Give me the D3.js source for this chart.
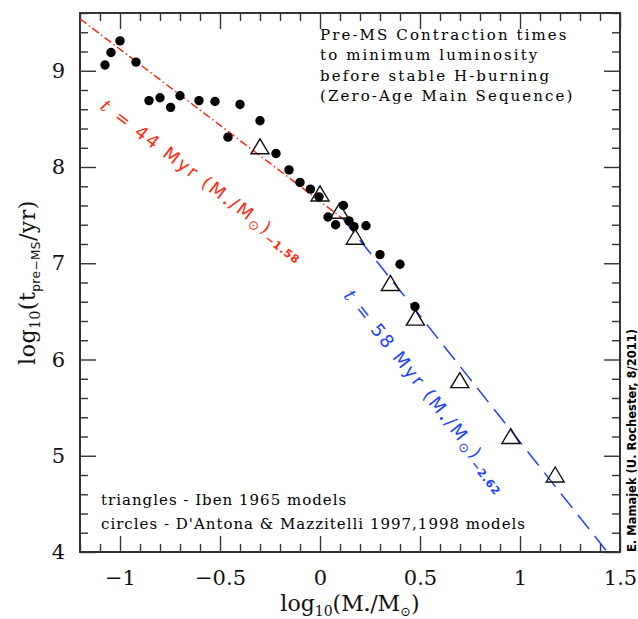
<!DOCTYPE html>
<html>
<head>
<meta charset="utf-8">
<script src="https://cdn.jsdelivr.net/npm/d3@7"></script>
<style>
  body { margin: 0; background: #fff; }
  svg { display: block; }
</style>
</head>
<body>
<div id="chart"></div>
<script>
// pre-MS contraction times vs stellar mass

// D'Antona & Mazzitelli 1997,1998 models (circles)
const circleLogM = [-1.075, -1.045, -1.0, -0.92, -0.855, -0.80, -0.747, -0.70, -0.605, -0.525,
                    -0.46, -0.40, -0.30, -0.22, -0.155, -0.10, -0.048, -0.005, 0.04, 0.078,
                    0.117, 0.145, 0.17, 0.23, 0.30, 0.40, 0.475];
const circleLogT = [9.06, 9.19, 9.31, 9.09, 8.69, 8.72, 8.62, 8.74, 8.69, 8.68,
                    8.31, 8.65, 8.48, 8.14, 7.97, 7.84, 7.77, 7.69, 7.48, 7.40,
                    7.60, 7.44, 7.38, 7.39, 7.09, 6.99, 6.55];

// Iben 1965 models (triangles)
const triLogM = [-0.30, 0.0, 0.097, 0.176, 0.352, 0.477, 0.699, 0.954, 1.176];
const triLogT = [8.21, 7.72, 7.54, 7.27, 6.79, 6.43, 5.78, 5.20, 4.80];

// power-law fits: t = A Myr (M/Msun)^p
const fitColors = ["#ff2a10", "#2040ff"];
const fitAmpMyr = [44, 58];
const fitPower = [-1.58, -2.62];
const fitFrom = [-1.2, 0.115];
const fitTo = [0.115, 1.5];

const xTicks = [-1, -0.5, 0, 0.5, 1, 1.5];
const xTickLabels = ["\u22121", "\u22120.5", "0", "0.5", "1", "1.5"];
const yTicks = [4, 5, 6, 7, 8, 9];
const yTickLabels = ["4", "5", "6", "7", "8", "9"];

const noteLines = ["Pre-MS Contraction times", "to minimum luminosity",
                   "before stable H-burning", "(Zero-Age Main Sequence)"];
const legendLines = ["triangles - Iben 1965 models",
                     "circles - D'Antona & Mazzitelli 1997,1998 models"];
const credit = "E. Mamajek (U. Rochester, 8/2011)";

const width = 638, height = 619;
const plotL = 80, plotR = 620, plotT = 13, plotB = 552;

const x = d3.scaleLinear().domain([-1.2, 1.5]).range([plotL, plotR]);
const y = d3.scaleLinear().domain([4, 9.6]).range([plotB, plotT]);

const svg = d3.select("#chart").append("svg")
    .attr("width", width)
    .attr("height", height);

const serif = "'DejaVu Serif', serif";
const sans = "'DejaVu Sans', sans-serif";
const axisColor = "#333";

// minor ticks
const xMinor = d3.range(-12, 16).map(d => d / 10).filter(d => !xTicks.some(t => Math.abs(t - d) < 1e-6));
const yMinor = d3.range(20, 49).map(d => d / 5).filter(d => !yTicks.some(t => Math.abs(t - d) < 1e-6));

function drawAxis(axis, tx, ty, cls) {
    const g = svg.append("g")
        .attr("class", cls)
        .attr("transform", `translate(${tx},${ty})`)
        .call(axis);
    g.select(".domain").remove();
    g.selectAll(".tick line").attr("stroke", axisColor).attr("stroke-width", 1.4);
    g.selectAll("text")
        .style("font-family", serif)
        .style("font-size", "21px")
        .attr("fill", "#111");
    return g;
}

// bottom / left with labels
drawAxis(d3.axisBottom(x).tickValues(xTicks).tickSize(-16).tickPadding(18)
    .tickFormat((d, i) => xTickLabels[i]), 0, plotB, "x-axis");
drawAxis(d3.axisBottom(x).tickValues(xMinor).tickSize(-8).tickFormat(""), 0, plotB, "x-minor");
drawAxis(d3.axisLeft(y).tickValues(yTicks).tickSize(-16).tickPadding(15)
    .tickFormat((d, i) => yTickLabels[i]), plotL, 0, "y-axis");
drawAxis(d3.axisLeft(y).tickValues(yMinor).tickSize(-8).tickFormat(""), plotL, 0, "y-minor");

// top / right, ticks only
drawAxis(d3.axisTop(x).tickValues(xTicks).tickSize(-16).tickFormat(""), 0, plotT, "x-top");
drawAxis(d3.axisTop(x).tickValues(xMinor).tickSize(-8).tickFormat(""), 0, plotT, "x-top-minor");
drawAxis(d3.axisRight(y).tickValues(yTicks).tickSize(-16).tickFormat(""), plotR, 0, "y-right");
drawAxis(d3.axisRight(y).tickValues(yMinor).tickSize(-8).tickFormat(""), plotR, 0, "y-right-minor");

// frame
svg.append("rect")
    .attr("x", plotL).attr("y", plotT)
    .attr("width", plotR - plotL).attr("height", plotB - plotT)
    .attr("fill", "none")
    .attr("stroke", axisColor)
    .attr("stroke-width", 2);

svg.append("clipPath").attr("id", "plot-clip")
    .append("rect")
    .attr("x", plotL).attr("y", plotT)
    .attr("width", plotR - plotL).attr("height", plotB - plotT);

// fit lines
const fitData = fitAmpMyr.map((a, i) => {
    const logA = Math.log10(a * 1e6);
    return {
        color: fitColors[i],
        pts: [[fitFrom[i], logA + fitPower[i] * fitFrom[i]], [fitTo[i], logA + fitPower[i] * fitTo[i]]]
    };
});
const line = d3.line().x(d => x(d[0])).y(d => y(d[1]));

svg.append("g").attr("clip-path", "url(#plot-clip)")
    .selectAll("path")
    .data(fitData)
    .enter()
    .append("path")
    .attr("d", d => line(d.pts))
    .attr("fill", "none")
    .attr("stroke", d => d.color)
    .attr("stroke-width", 1.5)
    .attr("stroke-dasharray", (d, i) => i === 0 ? "8,3,1.5,3" : "18,9");

// circles
svg.append("g")
    .selectAll("circle")
    .data(circleLogM)
    .enter()
    .append("circle")
    .attr("cx", d => x(d))
    .attr("cy", (d, i) => y(circleLogT[i]))
    .attr("r", 4.7)
    .attr("fill", "#000");

// triangles
svg.append("g")
    .selectAll("path")
    .data(triLogM)
    .enter()
    .append("path")
    .attr("d", "M0,-8 L9,7 L-9,7 Z")
    .attr("transform", (d, i) => `translate(${x(d)},${y(triLogT[i])})`)
    .attr("fill", "none")
    .attr("stroke", "#111")
    .attr("stroke-width", 1.4)
    .attr("stroke-linejoin", "miter");

// fit labels along the lines
const labelAnchors = [[-1.105, 8.61], [0.115, 6.66]];
fitData.forEach((f, i) => {
    const p0 = f.pts[0], p1 = f.pts[1];
    const ang = Math.atan2(y(p1[1]) - y(p0[1]), x(p1[0]) - x(p0[0])) * 180 / Math.PI;
    const t = svg.append("text")
        .attr("transform", `translate(${x(labelAnchors[i][0])},${y(labelAnchors[i][1])}) rotate(${ang})`)
        .attr("fill", f.color)
        .style("font-family", sans)
        .style("font-size", "18px")
        .style("letter-spacing", "2.3px");
    t.append("tspan").style("font-style", "italic").style("font-family", serif).text("t");
    t.append("tspan").text(` = ${fitAmpMyr[i]} Myr (M`);
    t.append("tspan").attr("dy", 3).style("font-size", "10px").text("\u2022");
    t.append("tspan").attr("dy", -3).text("/M");
    t.append("tspan").attr("dy", 4).style("font-size", "13px").text("\u2299");
    t.append("tspan").attr("dy", -4).text(")");
    t.append("tspan").attr("dy", 5).style("font-size", "11px").style("letter-spacing", "0.8px")
        .style("font-weight", "bold")
        .text(String(fitPower[i]).replace("-", "\u2212"));
});

// note, top right
svg.append("g")
    .selectAll("text")
    .data(noteLines)
    .enter()
    .append("text")
    .attr("x", 320)
    .attr("y", (d, i) => 40 + i * 20.3)
    .style("font-family", serif)
    .style("font-size", "15px")
    .style("letter-spacing", "2.1px")
    .attr("fill", "#000")
    .text(d => d);

// legend, bottom left
svg.append("g")
    .selectAll("text")
    .data(legendLines)
    .enter()
    .append("text")
    .attr("x", 101)
    .attr("y", (d, i) => 505 + i * 24)
    .style("font-family", serif)
    .style("font-size", "15px")
    .style("letter-spacing", "1.0px")
    .attr("fill", "#000")
    .text(d => d);

// credit, right edge
svg.append("text")
    .attr("transform", `translate(636,${plotB}) rotate(-90)`)
    .style("font-family", sans)
    .style("font-size", "11.5px")
    .style("font-weight", "bold")
    .attr("fill", "#000")
    .text(credit);

// axis titles
const xt = svg.append("text")
    .attr("x", (plotL + plotR) / 2)
    .attr("y", 611)
    .attr("text-anchor", "middle")
    .style("font-family", serif)
    .style("font-size", "22px")
    .attr("fill", "#111");
xt.append("tspan").text("log");
xt.append("tspan").attr("dy", 5).style("font-size", "14px").text("10");
xt.append("tspan").attr("dy", -5).text("(M");
xt.append("tspan").attr("dy", 3).style("font-size", "11px").text("\u2022");
xt.append("tspan").attr("dy", -3).text("/M");
xt.append("tspan").attr("dy", 5).style("font-size", "13px").text("\u2299");
xt.append("tspan").attr("dy", -5).text(")");

const yt = svg.append("text")
    .attr("transform", `translate(35,${(plotT + plotB) / 2}) rotate(-90)`)
    .attr("text-anchor", "middle")
    .style("font-family", serif)
    .style("font-size", "22px")
    .style("letter-spacing", "0.5px")
    .attr("fill", "#111");
yt.append("tspan").text("log");
yt.append("tspan").attr("dy", 5).style("font-size", "14px").text("10");
yt.append("tspan").attr("dy", -5).text("(t");
yt.append("tspan").attr("dy", 5).style("font-size", "12px").style("font-family", sans).text("pre\u2212MS");
yt.append("tspan").attr("dy", -5).text("/yr)");
</script>
</body>
</html>
